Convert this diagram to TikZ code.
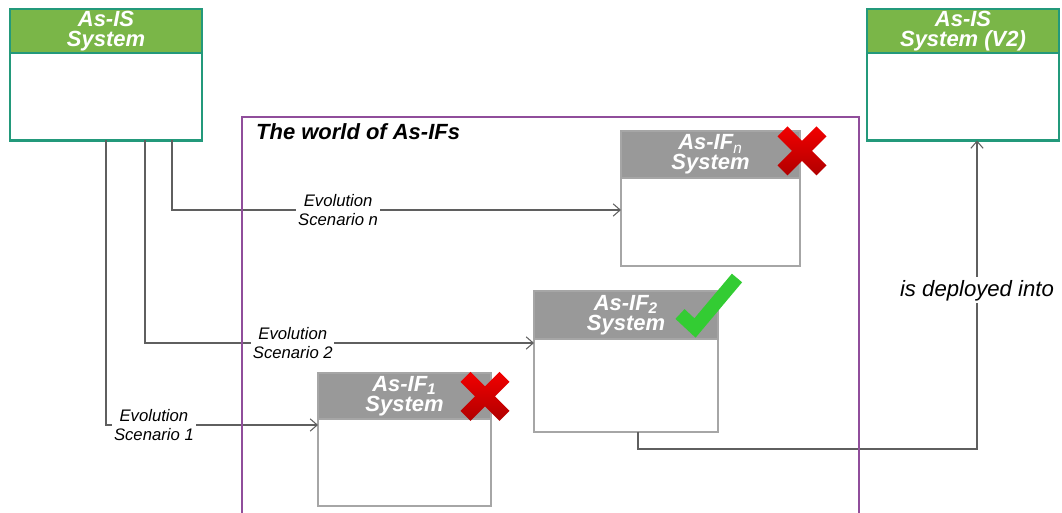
\documentclass[tikz,border=0pt]{standalone}
\usepackage{fontspec}
\setmainfont{Liberation Sans}
\usepackage{xcolor}
\usetikzlibrary{arrows.meta,positioning,calc}

\definecolor{isgreen}{HTML}{7AB648}
\definecolor{isteal}{HTML}{23997B}
\definecolor{ifgray}{HTML}{999999}
\definecolor{ifedge}{HTML}{A6A6A6}
\definecolor{worldpurple}{HTML}{904E9B}
\definecolor{linegray}{HTML}{5F5F5F}
\definecolor{xtop}{HTML}{F20000}
\definecolor{xbot}{HTML}{B00000}
\definecolor{okgreen}{HTML}{33CC33}

\begin{document}
\begin{tikzpicture}[
    node distance=0pt,
    headfont/.style={font=\bfseries\itshape\fontsize{12.5}{11.2}\selectfont},
    ishead/.style={draw=isteal, fill=isgreen, line width=1.6pt, outer sep=0pt, inner sep=0pt, minimum width=3.84cm, minimum height=0.88cm, align=center, text=white, headfont},
    isbody/.style={draw=isteal, fill=white, line width=1.6pt, outer sep=0pt, minimum width=3.84cm, minimum height=1.75cm},
    ifhead/.style={draw=ifedge, fill=ifgray, line width=1.5pt, outer sep=0pt, inner sep=0pt, minimum height=0.94cm, align=center, text=white, headfont},
    ifbody/.style={draw=ifedge, fill=white, line width=1.5pt, outer sep=0pt},
    arr/.style={-{Straight Barb[length=4pt,width=7pt]}, draw=linegray, line width=0.6pt},
    lbl/.style={font=\itshape\fontsize{9.5}{10.8}\selectfont, fill=white, inner sep=1pt, align=center},
    dlbl/.style={font=\itshape\fontsize{12.6}{14}\selectfont, fill=white, inner sep=1.5pt},
    world/.style={draw=worldpurple, line width=1.2pt},
    tick/.style={draw=okgreen, line width=7.6pt, line join=miter},
    redx/.pic={\shade[top color=xtop, bottom color=xbot] (0,0.2) -- (0.29,0.49) -- (0.49,0.29) -- (0.2,0) -- (0.49,-0.29) -- (0.29,-0.49) -- (0,-0.2) -- (-0.29,-0.49) -- (-0.49,-0.29) -- (-0.2,0) -- (-0.49,0.29) -- (-0.29,0.49) -- cycle;},
]
\useasboundingbox (0,0) rectangle (21.24,10.26);

% As-IS systems
\node[ishead] (asishead) at (2.12,9.64) {As-IS\\System};
\node[isbody, below=of asishead] (asisbody) {};
\node[ishead, right=13.3cm of asishead] (v2head) {As-IS\\System (V2)};
\node[isbody, below=of v2head] (v2body) {};

% As-IF systems
\node[ifhead, minimum width=3.58cm] (ifnhead) at (14.21,7.17) {As-IF\textsubscript{\mdseries n}\\System};
\node[ifbody, minimum width=3.58cm, minimum height=1.76cm, below=of ifnhead] (ifnbody) {};
\node[ifhead, minimum width=3.68cm, minimum height=0.96cm] (iftwohead) at (12.52,3.96) {As-IF\textsubscript{2}\\System};
\node[ifbody, minimum width=3.68cm, minimum height=1.86cm, below=of iftwohead] (iftwobody) {};
\node[ifhead, minimum width=3.46cm, minimum height=0.92cm] (ifonehead) at (8.09,2.34) {As-IF\textsubscript{1}\\System};
\node[ifbody, minimum width=3.46cm, minimum height=1.74cm, below=of ifonehead] (ifonebody) {};

% Scenarios
\draw[arr] ($(asisbody.south)+(1.32,0)$) |- node[lbl, pos=0.685] {Evolution\\Scenario n} ($(ifnbody.west)+(0,0.24)$);
\draw[arr] ($(asisbody.south)+(0.78,0)$) |- node[lbl, pos=0.69] {Evolution\\Scenario 2} ($(iftwobody.north west)+(0,-0.08)$);
\draw[arr] (asisbody.south) |- node[lbl, pos=0.613] {Evolution\\Scenario 1} ($(ifonebody.north west)+(0,-0.12)$);

% Deployment
\draw[arr] ($(iftwobody.south)+(0.24,0)$) -- ++(0,-0.34) -| node[dlbl, pos=0.757] {is deployed into} ($(v2body.south)+(0.28,0)$);

% World frame
\draw[world] (4.84,0) |- (17.18,7.92) -- (17.18,0);
\node[anchor=west, font=\bfseries\itshape\fontsize{12.5}{14}\selectfont] (worldlbl) at (5.0,7.62) {The world of As-IFs};

% Marks
\pic at ($(ifnhead.north east)+(0.04,-0.4)$) {redx};
\pic at ($(ifonehead.north east)+(-0.12,-0.47)$) {redx};
\draw[tick] ($(iftwohead.north east)+(-0.76,-0.46)$) -- ($(iftwohead.north east)+(-0.46,-0.74)$) -- ($(iftwohead.north east)+(0.38,0.26)$);
\end{tikzpicture}
\end{document}
